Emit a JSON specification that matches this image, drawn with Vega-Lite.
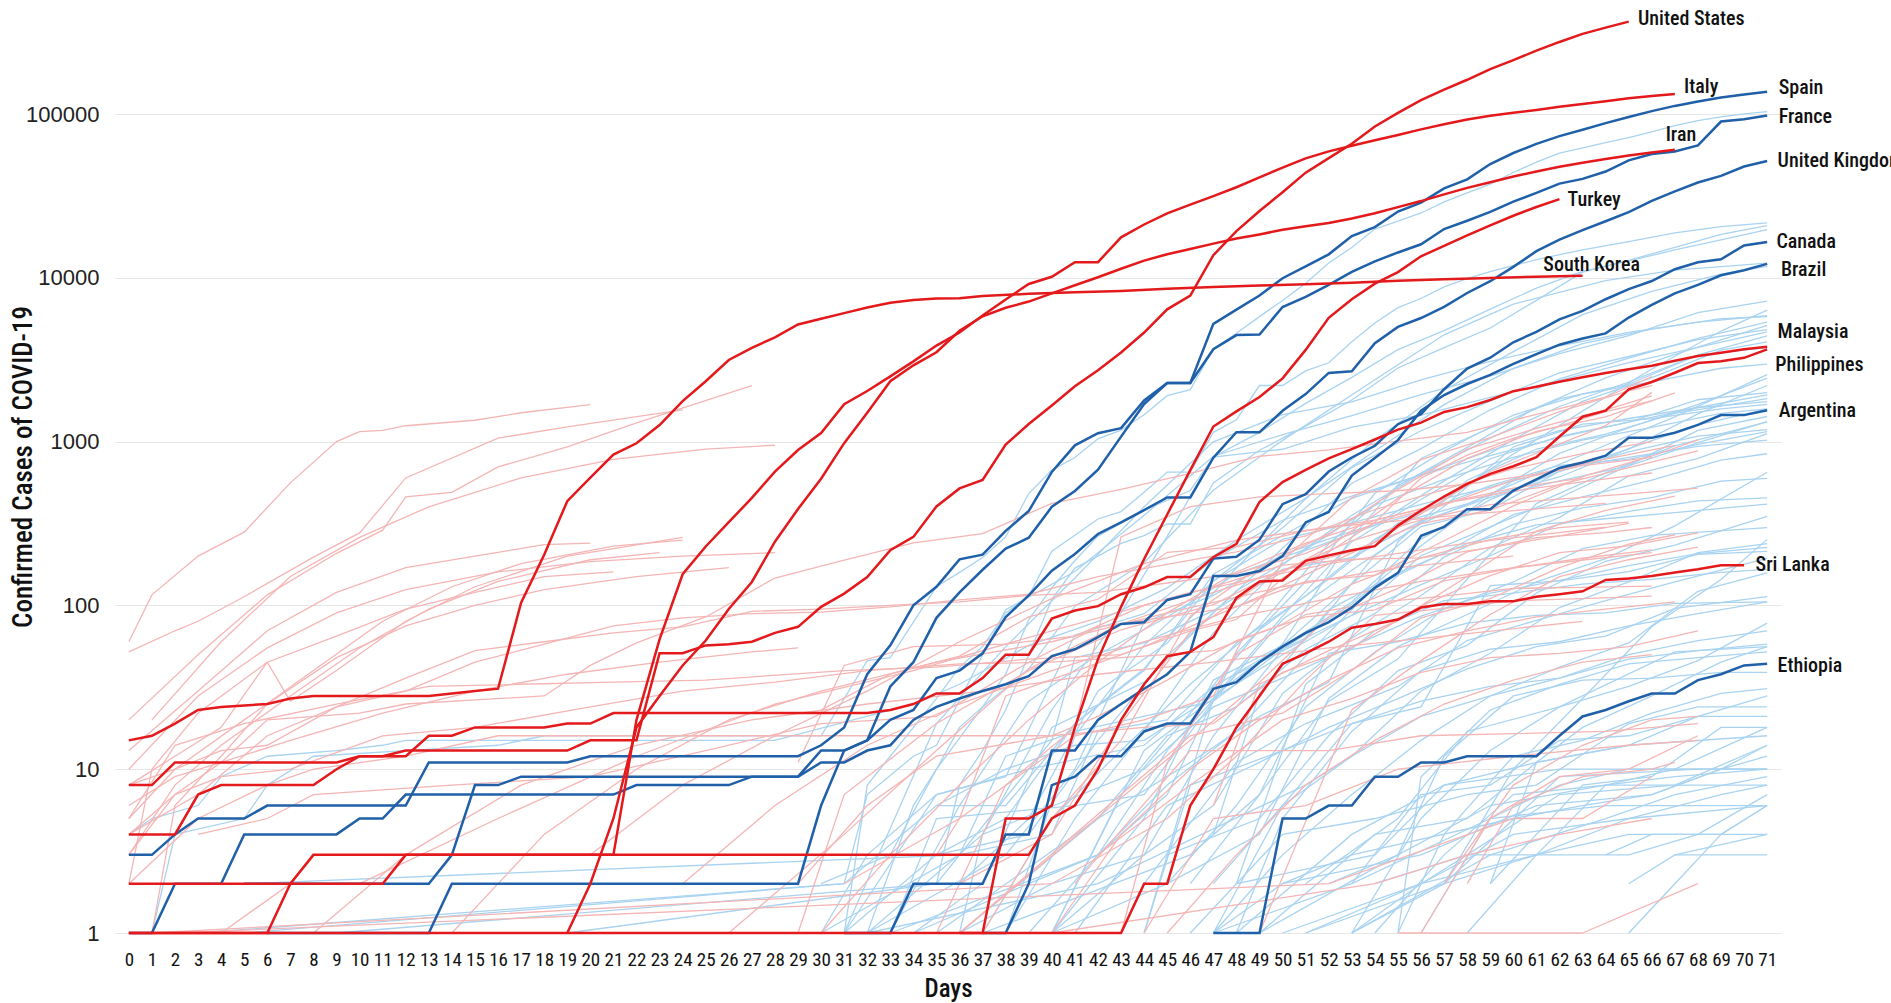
{
"$schema":"https://vega.github.io/schema/vega-lite/v6.json",
"width":1666,"height":933,
"autosize":{"type":"none"},
"padding":{"left":115,"top":0,"right":110,"bottom":70},
"background":"white",
"config":{"view":{"stroke":null}},
"datasets":{
"hr":[
{"c":"US","d":0,"v":8},{"c":"US","d":1,"v":8},{"c":"US","d":2,"v":11},{"c":"US","d":9,"v":11},{"c":"US","d":10,"v":12},{"c":"US","d":11,"v":12},{"c":"US","d":12,"v":13},{"c":"US","d":19,"v":13},{"c":"US","d":20,"v":15},{"c":"US","d":22,"v":15},{"c":"US","d":23,"v":51},{"c":"US","d":24,"v":51},{"c":"US","d":25,"v":57},{"c":"US","d":26,"v":58},{"c":"US","d":27,"v":60},{"c":"US","d":28,"v":68},{"c":"US","d":29,"v":74},{"c":"US","d":30,"v":98},{"c":"US","d":31,"v":118},{"c":"US","d":32,"v":149},{"c":"US","d":33,"v":217},{"c":"US","d":34,"v":262},{"c":"US","d":35,"v":402},{"c":"US","d":36,"v":518},{"c":"US","d":37,"v":583},{"c":"US","d":38,"v":959},{"c":"US","d":39,"v":1281},{"c":"US","d":40,"v":1663},{"c":"US","d":41,"v":2179},{"c":"US","d":42,"v":2726},{"c":"US","d":43,"v":3499},{"c":"US","d":44,"v":4632},{"c":"US","d":45,"v":6421},{"c":"US","d":46,"v":7783},{"c":"US","d":47,"v":13747},{"c":"US","d":48,"v":19273},{"c":"US","d":49,"v":25600},{"c":"US","d":50,"v":33276},{"c":"US","d":51,"v":43847},{"c":"US","d":52,"v":53740},{"c":"US","d":53,"v":65778},{"c":"US","d":54,"v":83836},{"c":"US","d":55,"v":101657},{"c":"US","d":56,"v":121465},{"c":"US","d":57,"v":140909},{"c":"US","d":58,"v":161831},{"c":"US","d":59,"v":188172},{"c":"US","d":60,"v":213242},{"c":"US","d":61,"v":243622},{"c":"US","d":62,"v":275367},{"c":"US","d":63,"v":308650},{"c":"US","d":64,"v":336802},{"c":"US","d":65,"v":366317},
{"c":"SK","d":0,"v":15},{"c":"SK","d":1,"v":16},{"c":"SK","d":2,"v":19},{"c":"SK","d":3,"v":23},{"c":"SK","d":4,"v":24},{"c":"SK","d":6,"v":25},{"c":"SK","d":7,"v":27},{"c":"SK","d":8,"v":28},{"c":"SK","d":13,"v":28},{"c":"SK","d":14,"v":29},{"c":"SK","d":15,"v":30},{"c":"SK","d":16,"v":31},{"c":"SK","d":17,"v":104},{"c":"SK","d":18,"v":204},{"c":"SK","d":19,"v":433},{"c":"SK","d":20,"v":602},{"c":"SK","d":21,"v":833},{"c":"SK","d":22,"v":977},{"c":"SK","d":23,"v":1261},{"c":"SK","d":24,"v":1766},{"c":"SK","d":25,"v":2337},{"c":"SK","d":26,"v":3150},{"c":"SK","d":27,"v":3736},{"c":"SK","d":28,"v":4335},{"c":"SK","d":29,"v":5186},{"c":"SK","d":30,"v":5621},{"c":"SK","d":31,"v":6088},{"c":"SK","d":32,"v":6593},{"c":"SK","d":33,"v":7041},{"c":"SK","d":34,"v":7314},{"c":"SK","d":35,"v":7478},{"c":"SK","d":36,"v":7513},{"c":"SK","d":37,"v":7755},{"c":"SK","d":39,"v":7979},{"c":"SK","d":41,"v":8162},{"c":"SK","d":43,"v":8320},{"c":"SK","d":45,"v":8565},{"c":"SK","d":47,"v":8799},{"c":"SK","d":49,"v":8961},{"c":"SK","d":51,"v":9137},{"c":"SK","d":53,"v":9332},{"c":"SK","d":55,"v":9583},{"c":"SK","d":57,"v":9786},{"c":"SK","d":59,"v":9976},{"c":"SK","d":61,"v":10156},{"c":"SK","d":63,"v":10284},
{"c":"IT","d":0,"v":1},{"c":"IT","d":6,"v":1},{"c":"IT","d":7,"v":2},{"c":"IT","d":8,"v":3},{"c":"IT","d":21,"v":3},{"c":"IT","d":22,"v":20},{"c":"IT","d":23,"v":62},{"c":"IT","d":24,"v":155},{"c":"IT","d":25,"v":229},{"c":"IT","d":26,"v":322},{"c":"IT","d":27,"v":453},{"c":"IT","d":28,"v":655},{"c":"IT","d":29,"v":888},{"c":"IT","d":30,"v":1128},{"c":"IT","d":31,"v":1694},{"c":"IT","d":32,"v":2036},{"c":"IT","d":33,"v":2502},{"c":"IT","d":34,"v":3089},{"c":"IT","d":35,"v":3858},{"c":"IT","d":36,"v":4636},{"c":"IT","d":37,"v":5883},{"c":"IT","d":38,"v":7375},{"c":"IT","d":39,"v":9172},{"c":"IT","d":40,"v":10149},{"c":"IT","d":41,"v":12462},{"c":"IT","d":42,"v":12462},{"c":"IT","d":43,"v":17660},{"c":"IT","d":44,"v":21157},{"c":"IT","d":45,"v":24747},{"c":"IT","d":46,"v":27980},{"c":"IT","d":47,"v":31506},{"c":"IT","d":48,"v":35713},{"c":"IT","d":49,"v":41035},{"c":"IT","d":50,"v":47021},{"c":"IT","d":51,"v":53578},{"c":"IT","d":52,"v":59138},{"c":"IT","d":53,"v":63927},{"c":"IT","d":54,"v":69176},{"c":"IT","d":55,"v":74386},{"c":"IT","d":56,"v":80589},{"c":"IT","d":57,"v":86498},{"c":"IT","d":58,"v":92472},{"c":"IT","d":59,"v":97689},{"c":"IT","d":60,"v":101739},{"c":"IT","d":61,"v":105792},{"c":"IT","d":62,"v":110574},{"c":"IT","d":63,"v":115242},{"c":"IT","d":64,"v":119827},{"c":"IT","d":65,"v":124632},{"c":"IT","d":66,"v":128948},{"c":"IT","d":67,"v":132547},
{"c":"IR","d":19,"v":1},{"c":"IR","d":20,"v":2},{"c":"IR","d":21,"v":5},{"c":"IR","d":22,"v":18},{"c":"IR","d":23,"v":28},{"c":"IR","d":24,"v":43},{"c":"IR","d":25,"v":61},{"c":"IR","d":26,"v":95},{"c":"IR","d":27,"v":139},{"c":"IR","d":28,"v":245},{"c":"IR","d":29,"v":388},{"c":"IR","d":30,"v":593},{"c":"IR","d":31,"v":978},{"c":"IR","d":32,"v":1501},{"c":"IR","d":33,"v":2336},{"c":"IR","d":34,"v":2922},{"c":"IR","d":35,"v":3513},{"c":"IR","d":36,"v":4747},{"c":"IR","d":37,"v":5823},{"c":"IR","d":38,"v":6566},{"c":"IR","d":39,"v":7161},{"c":"IR","d":40,"v":8042},{"c":"IR","d":41,"v":9000},{"c":"IR","d":42,"v":10075},{"c":"IR","d":43,"v":11364},{"c":"IR","d":44,"v":12729},{"c":"IR","d":45,"v":13938},{"c":"IR","d":46,"v":14991},{"c":"IR","d":47,"v":16169},{"c":"IR","d":48,"v":17361},{"c":"IR","d":49,"v":18407},{"c":"IR","d":50,"v":19644},{"c":"IR","d":51,"v":20610},{"c":"IR","d":52,"v":21638},{"c":"IR","d":53,"v":23049},{"c":"IR","d":54,"v":24811},{"c":"IR","d":55,"v":27017},{"c":"IR","d":56,"v":29406},{"c":"IR","d":57,"v":32332},{"c":"IR","d":58,"v":35408},{"c":"IR","d":59,"v":38309},{"c":"IR","d":60,"v":41495},{"c":"IR","d":61,"v":44605},{"c":"IR","d":62,"v":47593},{"c":"IR","d":63,"v":50468},{"c":"IR","d":64,"v":53183},{"c":"IR","d":65,"v":55743},{"c":"IR","d":66,"v":58226},{"c":"IR","d":67,"v":60500},
{"c":"TR","d":36,"v":1},{"c":"TR","d":37,"v":1},{"c":"TR","d":38,"v":5},{"c":"TR","d":39,"v":5},{"c":"TR","d":40,"v":6},{"c":"TR","d":41,"v":18},{"c":"TR","d":42,"v":47},{"c":"TR","d":43,"v":98},{"c":"TR","d":44,"v":192},{"c":"TR","d":45,"v":359},{"c":"TR","d":46,"v":670},{"c":"TR","d":47,"v":1236},{"c":"TR","d":48,"v":1529},{"c":"TR","d":49,"v":1872},{"c":"TR","d":50,"v":2433},{"c":"TR","d":51,"v":3629},{"c":"TR","d":52,"v":5698},{"c":"TR","d":53,"v":7402},{"c":"TR","d":54,"v":9217},{"c":"TR","d":55,"v":10827},{"c":"TR","d":56,"v":13531},{"c":"TR","d":57,"v":15679},{"c":"TR","d":58,"v":18135},{"c":"TR","d":59,"v":20921},{"c":"TR","d":60,"v":23934},{"c":"TR","d":61,"v":27069},{"c":"TR","d":62,"v":30217},
{"c":"LK","d":0,"v":1},{"c":"LK","d":43,"v":1},{"c":"LK","d":44,"v":2},{"c":"LK","d":45,"v":2},{"c":"LK","d":46,"v":6},{"c":"LK","d":47,"v":10},{"c":"LK","d":48,"v":18},{"c":"LK","d":49,"v":28},{"c":"LK","d":50,"v":44},{"c":"LK","d":51,"v":51},{"c":"LK","d":52,"v":60},{"c":"LK","d":53,"v":73},{"c":"LK","d":54,"v":77},{"c":"LK","d":55,"v":82},{"c":"LK","d":56,"v":97},{"c":"LK","d":57,"v":102},{"c":"LK","d":58,"v":102},{"c":"LK","d":59,"v":106},{"c":"LK","d":60,"v":106},{"c":"LK","d":61,"v":113},{"c":"LK","d":62,"v":117},{"c":"LK","d":63,"v":122},{"c":"LK","d":64,"v":143},{"c":"LK","d":65,"v":146},{"c":"LK","d":66,"v":151},{"c":"LK","d":67,"v":159},{"c":"LK","d":68,"v":166},{"c":"LK","d":69,"v":176},{"c":"LK","d":70,"v":176},
{"c":"MY","d":0,"v":4},{"c":"MY","d":2,"v":4},{"c":"MY","d":3,"v":7},{"c":"MY","d":4,"v":8},{"c":"MY","d":8,"v":8},{"c":"MY","d":9,"v":10},{"c":"MY","d":10,"v":12},{"c":"MY","d":12,"v":12},{"c":"MY","d":13,"v":16},{"c":"MY","d":14,"v":16},{"c":"MY","d":15,"v":18},{"c":"MY","d":18,"v":18},{"c":"MY","d":19,"v":19},{"c":"MY","d":20,"v":19},{"c":"MY","d":21,"v":22},{"c":"MY","d":32,"v":22},{"c":"MY","d":33,"v":23},{"c":"MY","d":34,"v":25},{"c":"MY","d":35,"v":29},{"c":"MY","d":36,"v":29},{"c":"MY","d":37,"v":36},{"c":"MY","d":38,"v":50},{"c":"MY","d":39,"v":50},{"c":"MY","d":40,"v":83},{"c":"MY","d":41,"v":93},{"c":"MY","d":42,"v":99},{"c":"MY","d":43,"v":117},{"c":"MY","d":44,"v":129},{"c":"MY","d":45,"v":149},{"c":"MY","d":46,"v":149},{"c":"MY","d":47,"v":197},{"c":"MY","d":48,"v":238},{"c":"MY","d":49,"v":428},{"c":"MY","d":50,"v":566},{"c":"MY","d":51,"v":673},{"c":"MY","d":52,"v":790},{"c":"MY","d":53,"v":900},{"c":"MY","d":54,"v":1030},{"c":"MY","d":55,"v":1183},{"c":"MY","d":56,"v":1306},{"c":"MY","d":57,"v":1518},{"c":"MY","d":58,"v":1624},{"c":"MY","d":59,"v":1796},{"c":"MY","d":60,"v":2031},{"c":"MY","d":61,"v":2161},{"c":"MY","d":62,"v":2320},{"c":"MY","d":63,"v":2470},{"c":"MY","d":64,"v":2626},{"c":"MY","d":65,"v":2766},{"c":"MY","d":66,"v":2908},{"c":"MY","d":67,"v":3116},{"c":"MY","d":68,"v":3333},{"c":"MY","d":69,"v":3483},{"c":"MY","d":70,"v":3662},{"c":"MY","d":71,"v":3793},
{"c":"PH","d":0,"v":2},{"c":"PH","d":11,"v":2},{"c":"PH","d":12,"v":3},{"c":"PH","d":39,"v":3},{"c":"PH","d":40,"v":5},{"c":"PH","d":41,"v":6},{"c":"PH","d":42,"v":10},{"c":"PH","d":43,"v":20},{"c":"PH","d":44,"v":33},{"c":"PH","d":45,"v":49},{"c":"PH","d":46,"v":52},{"c":"PH","d":47,"v":64},{"c":"PH","d":48,"v":111},{"c":"PH","d":49,"v":140},{"c":"PH","d":50,"v":142},{"c":"PH","d":51,"v":187},{"c":"PH","d":52,"v":202},{"c":"PH","d":53,"v":217},{"c":"PH","d":54,"v":230},{"c":"PH","d":55,"v":307},{"c":"PH","d":56,"v":380},{"c":"PH","d":57,"v":462},{"c":"PH","d":58,"v":552},{"c":"PH","d":59,"v":636},{"c":"PH","d":60,"v":707},{"c":"PH","d":61,"v":803},{"c":"PH","d":62,"v":1075},{"c":"PH","d":63,"v":1418},{"c":"PH","d":64,"v":1546},{"c":"PH","d":65,"v":2084},{"c":"PH","d":66,"v":2311},{"c":"PH","d":67,"v":2633},{"c":"PH","d":68,"v":3018},{"c":"PH","d":69,"v":3094},{"c":"PH","d":70,"v":3246},{"c":"PH","d":71,"v":3660}
],
"hb":[
{"c":"ES","d":6,"v":1},{"c":"ES","d":13,"v":1},{"c":"ES","d":14,"v":2},{"c":"ES","d":29,"v":2},{"c":"ES","d":30,"v":6},{"c":"ES","d":31,"v":13},{"c":"ES","d":32,"v":15},{"c":"ES","d":33,"v":32},{"c":"ES","d":34,"v":45},{"c":"ES","d":35,"v":84},{"c":"ES","d":36,"v":120},{"c":"ES","d":37,"v":165},{"c":"ES","d":38,"v":222},{"c":"ES","d":39,"v":259},{"c":"ES","d":40,"v":400},{"c":"ES","d":41,"v":500},{"c":"ES","d":42,"v":673},{"c":"ES","d":43,"v":1073},{"c":"ES","d":44,"v":1695},{"c":"ES","d":45,"v":2277},{"c":"ES","d":46,"v":2277},{"c":"ES","d":47,"v":5232},{"c":"ES","d":48,"v":6391},{"c":"ES","d":49,"v":7798},{"c":"ES","d":50,"v":9942},{"c":"ES","d":51,"v":11748},{"c":"ES","d":52,"v":13910},{"c":"ES","d":53,"v":17963},{"c":"ES","d":54,"v":20410},{"c":"ES","d":55,"v":25374},{"c":"ES","d":56,"v":28768},{"c":"ES","d":57,"v":35136},{"c":"ES","d":58,"v":39885},{"c":"ES","d":59,"v":49515},{"c":"ES","d":60,"v":57786},{"c":"ES","d":61,"v":65719},{"c":"ES","d":62,"v":73235},{"c":"ES","d":63,"v":80110},{"c":"ES","d":64,"v":87956},{"c":"ES","d":65,"v":95923},{"c":"ES","d":66,"v":104118},{"c":"ES","d":67,"v":112065},{"c":"ES","d":68,"v":119199},{"c":"ES","d":69,"v":126168},{"c":"ES","d":70,"v":131646},{"c":"ES","d":71,"v":136675},
{"c":"FR","d":0,"v":3},{"c":"FR","d":1,"v":3},{"c":"FR","d":2,"v":4},{"c":"FR","d":3,"v":5},{"c":"FR","d":5,"v":5},{"c":"FR","d":6,"v":6},{"c":"FR","d":12,"v":6},{"c":"FR","d":13,"v":11},{"c":"FR","d":19,"v":11},{"c":"FR","d":20,"v":12},{"c":"FR","d":29,"v":12},{"c":"FR","d":30,"v":14},{"c":"FR","d":31,"v":18},{"c":"FR","d":32,"v":38},{"c":"FR","d":33,"v":57},{"c":"FR","d":34,"v":100},{"c":"FR","d":35,"v":130},{"c":"FR","d":36,"v":191},{"c":"FR","d":37,"v":204},{"c":"FR","d":38,"v":285},{"c":"FR","d":39,"v":377},{"c":"FR","d":40,"v":653},{"c":"FR","d":41,"v":949},{"c":"FR","d":42,"v":1126},{"c":"FR","d":43,"v":1209},{"c":"FR","d":44,"v":1784},{"c":"FR","d":45,"v":2281},{"c":"FR","d":46,"v":2281},{"c":"FR","d":47,"v":3661},{"c":"FR","d":48,"v":4469},{"c":"FR","d":49,"v":4499},{"c":"FR","d":50,"v":6633},{"c":"FR","d":51,"v":7652},{"c":"FR","d":52,"v":9043},{"c":"FR","d":53,"v":10871},{"c":"FR","d":54,"v":12612},{"c":"FR","d":55,"v":14282},{"c":"FR","d":56,"v":16018},{"c":"FR","d":57,"v":19856},{"c":"FR","d":58,"v":22304},{"c":"FR","d":59,"v":25233},{"c":"FR","d":60,"v":29155},{"c":"FR","d":61,"v":32964},{"c":"FR","d":62,"v":37575},{"c":"FR","d":63,"v":40174},{"c":"FR","d":64,"v":44550},{"c":"FR","d":65,"v":52128},{"c":"FR","d":66,"v":56989},{"c":"FR","d":67,"v":59105},{"c":"FR","d":68,"v":64338},{"c":"FR","d":69,"v":89953},{"c":"FR","d":70,"v":92839},{"c":"FR","d":71,"v":98010},
{"c":"UK","d":5,"v":2},{"c":"UK","d":13,"v":2},{"c":"UK","d":14,"v":3},{"c":"UK","d":15,"v":8},{"c":"UK","d":16,"v":8},{"c":"UK","d":17,"v":9},{"c":"UK","d":29,"v":9},{"c":"UK","d":30,"v":13},{"c":"UK","d":31,"v":13},{"c":"UK","d":32,"v":15},{"c":"UK","d":33,"v":20},{"c":"UK","d":34,"v":23},{"c":"UK","d":35,"v":36},{"c":"UK","d":36,"v":40},{"c":"UK","d":37,"v":51},{"c":"UK","d":38,"v":85},{"c":"UK","d":39,"v":115},{"c":"UK","d":40,"v":163},{"c":"UK","d":41,"v":206},{"c":"UK","d":42,"v":273},{"c":"UK","d":43,"v":321},{"c":"UK","d":44,"v":382},{"c":"UK","d":45,"v":456},{"c":"UK","d":46,"v":456},{"c":"UK","d":47,"v":798},{"c":"UK","d":48,"v":1140},{"c":"UK","d":49,"v":1140},{"c":"UK","d":50,"v":1543},{"c":"UK","d":51,"v":1950},{"c":"UK","d":52,"v":2626},{"c":"UK","d":53,"v":2689},{"c":"UK","d":54,"v":3983},{"c":"UK","d":55,"v":5018},{"c":"UK","d":56,"v":5683},{"c":"UK","d":57,"v":6650},{"c":"UK","d":58,"v":8077},{"c":"UK","d":59,"v":9529},{"c":"UK","d":60,"v":11658},{"c":"UK","d":61,"v":14543},{"c":"UK","d":62,"v":17089},{"c":"UK","d":63,"v":19522},{"c":"UK","d":64,"v":22141},{"c":"UK","d":65,"v":25150},{"c":"UK","d":66,"v":29474},{"c":"UK","d":67,"v":33718},{"c":"UK","d":68,"v":38168},{"c":"UK","d":69,"v":41903},{"c":"UK","d":70,"v":47806},{"c":"UK","d":71,"v":51608},
{"c":"CA","d":0,"v":1},{"c":"CA","d":1,"v":1},{"c":"CA","d":2,"v":2},{"c":"CA","d":4,"v":2},{"c":"CA","d":5,"v":4},{"c":"CA","d":9,"v":4},{"c":"CA","d":10,"v":5},{"c":"CA","d":11,"v":5},{"c":"CA","d":12,"v":7},{"c":"CA","d":21,"v":7},{"c":"CA","d":22,"v":8},{"c":"CA","d":26,"v":8},{"c":"CA","d":27,"v":9},{"c":"CA","d":29,"v":9},{"c":"CA","d":30,"v":11},{"c":"CA","d":31,"v":11},{"c":"CA","d":32,"v":13},{"c":"CA","d":33,"v":14},{"c":"CA","d":34,"v":20},{"c":"CA","d":35,"v":24},{"c":"CA","d":36,"v":27},{"c":"CA","d":37,"v":30},{"c":"CA","d":38,"v":33},{"c":"CA","d":39,"v":37},{"c":"CA","d":40,"v":49},{"c":"CA","d":41,"v":54},{"c":"CA","d":42,"v":64},{"c":"CA","d":43,"v":77},{"c":"CA","d":44,"v":79},{"c":"CA","d":45,"v":108},{"c":"CA","d":46,"v":117},{"c":"CA","d":47,"v":193},{"c":"CA","d":48,"v":198},{"c":"CA","d":49,"v":252},{"c":"CA","d":50,"v":415},{"c":"CA","d":51,"v":478},{"c":"CA","d":52,"v":657},{"c":"CA","d":53,"v":800},{"c":"CA","d":54,"v":943},{"c":"CA","d":55,"v":1277},{"c":"CA","d":56,"v":1469},{"c":"CA","d":57,"v":2088},{"c":"CA","d":58,"v":2790},{"c":"CA","d":59,"v":3251},{"c":"CA","d":60,"v":4042},{"c":"CA","d":61,"v":4682},{"c":"CA","d":62,"v":5576},{"c":"CA","d":63,"v":6280},{"c":"CA","d":64,"v":7398},{"c":"CA","d":65,"v":8527},{"c":"CA","d":66,"v":9560},{"c":"CA","d":67,"v":11284},{"c":"CA","d":68,"v":12437},{"c":"CA","d":69,"v":12978},{"c":"CA","d":70,"v":15756},{"c":"CA","d":71,"v":16563},
{"c":"BR","d":31,"v":1},{"c":"BR","d":33,"v":1},{"c":"BR","d":34,"v":2},{"c":"BR","d":37,"v":2},{"c":"BR","d":38,"v":4},{"c":"BR","d":39,"v":4},{"c":"BR","d":40,"v":13},{"c":"BR","d":41,"v":13},{"c":"BR","d":42,"v":20},{"c":"BR","d":43,"v":25},{"c":"BR","d":44,"v":31},{"c":"BR","d":45,"v":38},{"c":"BR","d":46,"v":52},{"c":"BR","d":47,"v":151},{"c":"BR","d":48,"v":151},{"c":"BR","d":49,"v":162},{"c":"BR","d":50,"v":200},{"c":"BR","d":51,"v":321},{"c":"BR","d":52,"v":372},{"c":"BR","d":53,"v":621},{"c":"BR","d":54,"v":793},{"c":"BR","d":55,"v":1021},{"c":"BR","d":56,"v":1546},{"c":"BR","d":57,"v":1924},{"c":"BR","d":58,"v":2247},{"c":"BR","d":59,"v":2554},{"c":"BR","d":60,"v":2985},{"c":"BR","d":61,"v":3417},{"c":"BR","d":62,"v":3904},{"c":"BR","d":63,"v":4256},{"c":"BR","d":64,"v":4579},{"c":"BR","d":65,"v":5717},{"c":"BR","d":66,"v":6836},{"c":"BR","d":67,"v":8044},{"c":"BR","d":68,"v":9056},{"c":"BR","d":69,"v":10360},{"c":"BR","d":70,"v":11130},{"c":"BR","d":71,"v":12161},
{"c":"AR","d":37,"v":1},{"c":"AR","d":38,"v":1},{"c":"AR","d":39,"v":2},{"c":"AR","d":40,"v":8},{"c":"AR","d":41,"v":9},{"c":"AR","d":42,"v":12},{"c":"AR","d":43,"v":12},{"c":"AR","d":44,"v":17},{"c":"AR","d":45,"v":19},{"c":"AR","d":46,"v":19},{"c":"AR","d":47,"v":31},{"c":"AR","d":48,"v":34},{"c":"AR","d":49,"v":45},{"c":"AR","d":50,"v":56},{"c":"AR","d":51,"v":68},{"c":"AR","d":52,"v":79},{"c":"AR","d":53,"v":97},{"c":"AR","d":54,"v":128},{"c":"AR","d":55,"v":158},{"c":"AR","d":56,"v":266},{"c":"AR","d":57,"v":301},{"c":"AR","d":58,"v":387},{"c":"AR","d":59,"v":387},{"c":"AR","d":60,"v":502},{"c":"AR","d":61,"v":589},{"c":"AR","d":62,"v":690},{"c":"AR","d":63,"v":745},{"c":"AR","d":64,"v":820},{"c":"AR","d":65,"v":1054},{"c":"AR","d":66,"v":1054},{"c":"AR","d":67,"v":1133},{"c":"AR","d":68,"v":1265},{"c":"AR","d":69,"v":1451},{"c":"AR","d":70,"v":1451},{"c":"AR","d":71,"v":1554},
{"c":"ET","d":47,"v":1},{"c":"ET","d":49,"v":1},{"c":"ET","d":50,"v":5},{"c":"ET","d":51,"v":5},{"c":"ET","d":52,"v":6},{"c":"ET","d":53,"v":6},{"c":"ET","d":54,"v":9},{"c":"ET","d":55,"v":9},{"c":"ET","d":56,"v":11},{"c":"ET","d":57,"v":11},{"c":"ET","d":58,"v":12},{"c":"ET","d":61,"v":12},{"c":"ET","d":62,"v":16},{"c":"ET","d":63,"v":21},{"c":"ET","d":64,"v":23},{"c":"ET","d":65,"v":26},{"c":"ET","d":66,"v":29},{"c":"ET","d":67,"v":29},{"c":"ET","d":68,"v":35},{"c":"ET","d":69,"v":38},{"c":"ET","d":70,"v":43},{"c":"ET","d":71,"v":44}
],
"lb":[
{"c":"de","d":1,"v":1},{"c":"de","d":2,"v":4},{"c":"de","d":5,"v":5},{"c":"de","d":6,"v":8},{"c":"de","d":8,"v":12},{"c":"de","d":12,"v":13},{"c":"de","d":16,"v":14},{"c":"de","d":18,"v":16},{"c":"de","d":30,"v":16},{"c":"de","d":31,"v":27},{"c":"de","d":32,"v":46},{"c":"de","d":33,"v":48},{"c":"de","d":34,"v":79},{"c":"de","d":35,"v":130},{"c":"de","d":36,"v":159},{"c":"de","d":37,"v":196},{"c":"de","d":38,"v":262},{"c":"de","d":39,"v":482},{"c":"de","d":40,"v":670},{"c":"de","d":41,"v":799},{"c":"de","d":42,"v":1040},{"c":"de","d":43,"v":1176},{"c":"de","d":44,"v":1457},{"c":"de","d":45,"v":1908},{"c":"de","d":46,"v":2078},{"c":"de","d":47,"v":3675},{"c":"de","d":48,"v":4585},{"c":"de","d":49,"v":5795},{"c":"de","d":50,"v":7272},{"c":"de","d":51,"v":9257},{"c":"de","d":52,"v":12327},{"c":"de","d":53,"v":15320},{"c":"de","d":54,"v":19848},{"c":"de","d":55,"v":22213},{"c":"de","d":56,"v":24873},{"c":"de","d":57,"v":29056},{"c":"de","d":58,"v":32986},{"c":"de","d":59,"v":37323},{"c":"de","d":60,"v":43938},{"c":"de","d":61,"v":50871},{"c":"de","d":62,"v":57695},{"c":"de","d":63,"v":62095},{"c":"de","d":64,"v":66885},{"c":"de","d":65,"v":71808},{"c":"de","d":66,"v":77872},{"c":"de","d":67,"v":84794},{"c":"de","d":68,"v":91159},{"c":"de","d":69,"v":96092},{"c":"de","d":70,"v":100123},{"c":"de","d":71,"v":103374},
{"c":"ch","d":30,"v":1},{"c":"ch","d":31,"v":1},{"c":"ch","d":32,"v":8},{"c":"ch","d":34,"v":18},{"c":"ch","d":35,"v":27},{"c":"ch","d":36,"v":42},{"c":"ch","d":37,"v":56},{"c":"ch","d":38,"v":90},{"c":"ch","d":39,"v":114},{"c":"ch","d":40,"v":214},{"c":"ch","d":41,"v":268},{"c":"ch","d":42,"v":337},{"c":"ch","d":43,"v":374},{"c":"ch","d":44,"v":491},{"c":"ch","d":45,"v":652},{"c":"ch","d":46,"v":652},{"c":"ch","d":47,"v":1139},{"c":"ch","d":48,"v":1359},{"c":"ch","d":49,"v":2200},{"c":"ch","d":50,"v":2200},{"c":"ch","d":51,"v":2700},{"c":"ch","d":52,"v":3028},{"c":"ch","d":53,"v":4075},{"c":"ch","d":54,"v":5294},{"c":"ch","d":55,"v":6575},{"c":"ch","d":56,"v":7474},{"c":"ch","d":57,"v":8795},{"c":"ch","d":58,"v":9877},{"c":"ch","d":59,"v":10897},{"c":"ch","d":61,"v":12928},{"c":"ch","d":63,"v":14829},{"c":"ch","d":65,"v":16605},{"c":"ch","d":67,"v":18827},{"c":"ch","d":69,"v":20505},{"c":"ch","d":71,"v":21657},
{"c":"be","d":9,"v":1},{"c":"be","d":35,"v":2},{"c":"be","d":36,"v":8},{"c":"be","d":37,"v":13},{"c":"be","d":38,"v":23},{"c":"be","d":39,"v":50},{"c":"be","d":40,"v":109},{"c":"be","d":41,"v":169},{"c":"be","d":42,"v":200},{"c":"be","d":43,"v":239},{"c":"be","d":44,"v":267},{"c":"be","d":45,"v":314},{"c":"be","d":46,"v":314},{"c":"be","d":47,"v":559},{"c":"be","d":49,"v":886},{"c":"be","d":51,"v":1243},{"c":"be","d":53,"v":1795},{"c":"be","d":55,"v":2815},{"c":"be","d":57,"v":3743},{"c":"be","d":59,"v":4937},{"c":"be","d":61,"v":7284},{"c":"be","d":63,"v":10836},{"c":"be","d":65,"v":12775},{"c":"be","d":67,"v":15348},{"c":"be","d":69,"v":18431},{"c":"be","d":71,"v":20814},
{"c":"nl","d":32,"v":1},{"c":"nl","d":34,"v":6},{"c":"nl","d":35,"v":10},{"c":"nl","d":36,"v":18},{"c":"nl","d":37,"v":24},{"c":"nl","d":38,"v":38},{"c":"nl","d":39,"v":82},{"c":"nl","d":40,"v":128},{"c":"nl","d":41,"v":188},{"c":"nl","d":42,"v":265},{"c":"nl","d":44,"v":382},{"c":"nl","d":46,"v":503},{"c":"nl","d":47,"v":806},{"c":"nl","d":49,"v":1138},{"c":"nl","d":51,"v":1711},{"c":"nl","d":53,"v":2467},{"c":"nl","d":55,"v":3640},{"c":"nl","d":57,"v":4764},{"c":"nl","d":59,"v":6438},{"c":"nl","d":61,"v":8647},{"c":"nl","d":63,"v":10930},{"c":"nl","d":65,"v":12667},{"c":"nl","d":67,"v":14788},{"c":"nl","d":69,"v":17053},{"c":"nl","d":71,"v":19709},
{"c":"at","d":30,"v":2},{"c":"at","d":33,"v":3},{"c":"at","d":35,"v":10},{"c":"at","d":37,"v":24},{"c":"at","d":39,"v":41},{"c":"at","d":41,"v":99},{"c":"at","d":44,"v":182},{"c":"at","d":47,"v":504},{"c":"at","d":50,"v":1018},{"c":"at","d":54,"v":2388},{"c":"at","d":57,"v":4486},{"c":"at","d":60,"v":6909},{"c":"at","d":64,"v":9618},{"c":"at","d":67,"v":11129},{"c":"at","d":71,"v":12297},
{"c":"pt","d":36,"v":2},{"c":"pt","d":39,"v":5},{"c":"pt","d":42,"v":30},{"c":"pt","d":45,"v":59},{"c":"pt","d":48,"v":169},{"c":"pt","d":51,"v":448},{"c":"pt","d":54,"v":1020},{"c":"pt","d":57,"v":2060},{"c":"pt","d":60,"v":3544},{"c":"pt","d":63,"v":5962},{"c":"pt","d":66,"v":8251},{"c":"pt","d":69,"v":10524},{"c":"pt","d":71,"v":11730},
{"c":"se","d":5,"v":1},{"c":"se","d":31,"v":2},{"c":"se","d":32,"v":7},{"c":"se","d":34,"v":12},{"c":"se","d":35,"v":14},{"c":"se","d":38,"v":94},{"c":"se","d":41,"v":161},{"c":"se","d":44,"v":355},{"c":"se","d":47,"v":814},{"c":"se","d":50,"v":1103},{"c":"se","d":53,"v":1439},{"c":"se","d":56,"v":1934},{"c":"se","d":59,"v":2510},{"c":"se","d":62,"v":3447},{"c":"se","d":65,"v":4435},{"c":"se","d":68,"v":6131},{"c":"se","d":71,"v":7206},
{"c":"no","d":31,"v":1},{"c":"no","d":35,"v":19},{"c":"no","d":38,"v":56},{"c":"no","d":41,"v":147},{"c":"no","d":44,"v":400},{"c":"no","d":47,"v":996},{"c":"no","d":50,"v":1463},{"c":"no","d":53,"v":1746},{"c":"no","d":56,"v":2385},{"c":"no","d":59,"v":3084},{"c":"no","d":62,"v":3845},{"c":"no","d":65,"v":4641},{"c":"no","d":68,"v":5370},{"c":"no","d":71,"v":5865},
{"c":"au","d":0,"v":4},{"c":"au","d":1,"v":5},{"c":"au","d":3,"v":6},{"c":"au","d":4,"v":9},{"c":"au","d":6,"v":12},{"c":"au","d":9,"v":13},{"c":"au","d":11,"v":14},{"c":"au","d":12,"v":15},{"c":"au","d":28,"v":15},{"c":"au","d":34,"v":25},{"c":"au","d":36,"v":33},{"c":"au","d":39,"v":57},{"c":"au","d":42,"v":80},{"c":"au","d":45,"v":128},{"c":"au","d":48,"v":250},{"c":"au","d":51,"v":452},{"c":"au","d":54,"v":876},{"c":"au","d":57,"v":1682},{"c":"au","d":60,"v":2799},{"c":"au","d":63,"v":3966},{"c":"au","d":66,"v":4862},{"c":"au","d":69,"v":5635},{"c":"au","d":71,"v":5795},
{"c":"cz","d":35,"v":3},{"c":"cz","d":38,"v":5},{"c":"cz","d":41,"v":19},{"c":"cz","d":44,"v":41},{"c":"cz","d":47,"v":141},{"c":"cz","d":50,"v":298},{"c":"cz","d":53,"v":694},{"c":"cz","d":56,"v":1165},{"c":"cz","d":59,"v":1775},{"c":"cz","d":62,"v":2631},{"c":"cz","d":65,"v":3308},{"c":"cz","d":68,"v":4190},{"c":"cz","d":71,"v":4822},
{"c":"dk","d":32,"v":1},{"c":"dk","d":37,"v":4},{"c":"dk","d":40,"v":23},{"c":"dk","d":43,"v":90},{"c":"dk","d":45,"v":264},{"c":"dk","d":47,"v":804},{"c":"dk","d":50,"v":898},{"c":"dk","d":53,"v":1225},{"c":"dk","d":56,"v":1450},{"c":"dk","d":59,"v":1862},{"c":"dk","d":62,"v":2366},{"c":"dk","d":65,"v":3039},{"c":"dk","d":68,"v":3757},{"c":"dk","d":71,"v":4681},
{"c":"cl","d":37,"v":1},{"c":"cl","d":40,"v":5},{"c":"cl","d":43,"v":13},{"c":"cl","d":46,"v":33},{"c":"cl","d":49,"v":75},{"c":"cl","d":52,"v":238},{"c":"cl","d":55,"v":537},{"c":"cl","d":58,"v":922},{"c":"cl","d":61,"v":1610},{"c":"cl","d":64,"v":2449},{"c":"cl","d":67,"v":3404},{"c":"cl","d":71,"v":5116},
{"c":"ru","d":5,"v":2},{"c":"ru","d":36,"v":3},{"c":"ru","d":40,"v":4},{"c":"ru","d":42,"v":17},{"c":"ru","d":45,"v":20},{"c":"ru","d":48,"v":59},{"c":"ru","d":51,"v":114},{"c":"ru","d":54,"v":253},{"c":"ru","d":57,"v":438},{"c":"ru","d":60,"v":840},{"c":"ru","d":63,"v":1534},{"c":"ru","d":66,"v":2777},{"c":"ru","d":69,"v":4731},{"c":"ru","d":71,"v":6343},
{"c":"ie","d":34,"v":1},{"c":"ie","d":37,"v":2},{"c":"ie","d":40,"v":18},{"c":"ie","d":44,"v":34},{"c":"ie","d":47,"v":90},{"c":"ie","d":50,"v":223},{"c":"ie","d":53,"v":557},{"c":"ie","d":56,"v":906},{"c":"ie","d":59,"v":1564},{"c":"ie","d":62,"v":2415},{"c":"ie","d":65,"v":3235},{"c":"ie","d":68,"v":4273},{"c":"ie","d":71,"v":5364},
{"c":"ro","d":31,"v":1},{"c":"ro","d":35,"v":3},{"c":"ro","d":39,"v":4},{"c":"ro","d":42,"v":15},{"c":"ro","d":45,"v":49},{"c":"ro","d":48,"v":123},{"c":"ro","d":51,"v":217},{"c":"ro","d":54,"v":308},{"c":"ro","d":57,"v":576},{"c":"ro","d":60,"v":1029},{"c":"ro","d":63,"v":1760},{"c":"ro","d":66,"v":2460},{"c":"ro","d":69,"v":3613},{"c":"ro","d":71,"v":4057},
{"c":"pl","d":38,"v":1},{"c":"pl","d":41,"v":5},{"c":"pl","d":44,"v":17},{"c":"pl","d":47,"v":68},{"c":"pl","d":50,"v":177},{"c":"pl","d":53,"v":355},{"c":"pl","d":56,"v":634},{"c":"pl","d":59,"v":1051},{"c":"pl","d":62,"v":1638},{"c":"pl","d":65,"v":2311},{"c":"pl","d":68,"v":3383},{"c":"pl","d":71,"v":4413},
{"c":"ec","d":35,"v":6},{"c":"ec","d":38,"v":10},{"c":"ec","d":41,"v":14},{"c":"ec","d":44,"v":15},{"c":"ec","d":47,"v":28},{"c":"ec","d":50,"v":58},{"c":"ec","d":53,"v":260},{"c":"ec","d":56,"v":789},{"c":"ec","d":59,"v":1211},{"c":"ec","d":62,"v":1823},{"c":"ec","d":65,"v":2240},{"c":"ec","d":68,"v":3368},{"c":"ec","d":71,"v":3747},
{"c":"lu","d":34,"v":1},{"c":"lu","d":39,"v":2},{"c":"lu","d":42,"v":3},{"c":"lu","d":45,"v":7},{"c":"lu","d":48,"v":51},{"c":"lu","d":51,"v":140},{"c":"lu","d":54,"v":484},{"c":"lu","d":57,"v":875},{"c":"lu","d":60,"v":1453},{"c":"lu","d":63,"v":1950},{"c":"lu","d":66,"v":2319},{"c":"lu","d":69,"v":2804},{"c":"lu","d":71,"v":2970},
{"c":"fi","d":3,"v":1},{"c":"fi","d":31,"v":2},{"c":"fi","d":35,"v":6},{"c":"fi","d":38,"v":6},{"c":"fi","d":41,"v":19},{"c":"fi","d":44,"v":40},{"c":"fi","d":47,"v":155},{"c":"fi","d":50,"v":267},{"c":"fi","d":53,"v":450},{"c":"fi","d":56,"v":626},{"c":"fi","d":59,"v":880},{"c":"fi","d":62,"v":1167},{"c":"fi","d":65,"v":1384},{"c":"fi","d":68,"v":1615},{"c":"fi","d":71,"v":1927},
{"c":"mx","d":33,"v":1},{"c":"mx","d":35,"v":5},{"c":"mx","d":41,"v":6},{"c":"mx","d":44,"v":7},{"c":"mx","d":47,"v":26},{"c":"mx","d":50,"v":82},{"c":"mx","d":53,"v":164},{"c":"mx","d":56,"v":316},{"c":"mx","d":59,"v":475},{"c":"mx","d":62,"v":848},{"c":"mx","d":65,"v":1215},{"c":"mx","d":68,"v":1688},{"c":"mx","d":71,"v":2439},
{"c":"pe","d":40,"v":1},{"c":"pe","d":43,"v":7},{"c":"pe","d":46,"v":22},{"c":"pe","d":49,"v":71},{"c":"pe","d":52,"v":145},{"c":"pe","d":55,"v":318},{"c":"pe","d":58,"v":416},{"c":"pe","d":61,"v":635},{"c":"pe","d":64,"v":950},{"c":"pe","d":67,"v":1414},{"c":"pe","d":71,"v":2561},
{"c":"gr","d":31,"v":1},{"c":"gr","d":35,"v":7},{"c":"gr","d":38,"v":9},{"c":"gr","d":41,"v":66},{"c":"gr","d":44,"v":89},{"c":"gr","d":47,"v":190},{"c":"gr","d":50,"v":331},{"c":"gr","d":53,"v":464},{"c":"gr","d":56,"v":624},{"c":"gr","d":59,"v":821},{"c":"gr","d":62,"v":1061},{"c":"gr","d":65,"v":1314},{"c":"gr","d":68,"v":1613},{"c":"gr","d":71,"v":1755},
{"c":"is","d":33,"v":1},{"c":"is","d":36,"v":6},{"c":"is","d":39,"v":26},{"c":"is","d":42,"v":50},{"c":"is","d":45,"v":85},{"c":"is","d":48,"v":156},{"c":"is","d":51,"v":220},{"c":"is","d":54,"v":409},{"c":"is","d":57,"v":588},{"c":"is","d":60,"v":802},{"c":"is","d":63,"v":1020},{"c":"is","d":66,"v":1220},{"c":"is","d":69,"v":1486},{"c":"is","d":71,"v":1586},
{"c":"hr","d":30,"v":1},{"c":"hr","d":32,"v":3},{"c":"hr","d":35,"v":7},{"c":"hr","d":39,"v":10},{"c":"hr","d":44,"v":14},{"c":"hr","d":47,"v":32},{"c":"hr","d":50,"v":56},{"c":"hr","d":53,"v":105},{"c":"hr","d":56,"v":254},{"c":"hr","d":59,"v":442},{"c":"hr","d":62,"v":657},{"c":"hr","d":65,"v":867},{"c":"hr","d":68,"v":1079},{"c":"hr","d":71,"v":1182},
{"c":"rs","d":40,"v":1},{"c":"rs","d":44,"v":5},{"c":"rs","d":47,"v":35},{"c":"rs","d":50,"v":57},{"c":"rs","d":53,"v":135},{"c":"rs","d":56,"v":303},{"c":"rs","d":59,"v":384},{"c":"rs","d":62,"v":659},{"c":"rs","d":65,"v":900},{"c":"rs","d":68,"v":1476},{"c":"rs","d":71,"v":2200},
{"c":"co","d":40,"v":1},{"c":"co","d":44,"v":3},{"c":"co","d":47,"v":16},{"c":"co","d":50,"v":54},{"c":"co","d":53,"v":102},{"c":"co","d":56,"v":231},{"c":"co","d":59,"v":470},{"c":"co","d":62,"v":608},{"c":"co","d":65,"v":906},{"c":"co","d":68,"v":1267},{"c":"co","d":71,"v":1579},
{"c":"za","d":39,"v":1},{"c":"za","d":42,"v":3},{"c":"za","d":45,"v":13},{"c":"za","d":48,"v":38},{"c":"za","d":51,"v":62},{"c":"za","d":54,"v":202},{"c":"za","d":57,"v":402},{"c":"za","d":60,"v":927},{"c":"za","d":63,"v":1280},{"c":"za","d":66,"v":1380},{"c":"za","d":69,"v":1585},{"c":"za","d":71,"v":1686},
{"c":"eg","d":19,"v":1},{"c":"eg","d":35,"v":2},{"c":"eg","d":40,"v":15},{"c":"eg","d":41,"v":48},{"c":"eg","d":44,"v":59},{"c":"eg","d":47,"v":93},{"c":"eg","d":50,"v":166},{"c":"eg","d":53,"v":196},{"c":"eg","d":56,"v":327},{"c":"eg","d":59,"v":456},{"c":"eg","d":62,"v":576},{"c":"eg","d":65,"v":710},{"c":"eg","d":68,"v":985},{"c":"eg","d":71,"v":1322},
{"c":"dz","d":30,"v":1},{"c":"dz","d":36,"v":3},{"c":"dz","d":38,"v":12},{"c":"dz","d":41,"v":17},{"c":"dz","d":47,"v":26},{"c":"dz","d":50,"v":54},{"c":"dz","d":53,"v":87},{"c":"dz","d":56,"v":201},{"c":"dz","d":59,"v":302},{"c":"dz","d":62,"v":454},{"c":"dz","d":65,"v":716},{"c":"dz","d":68,"v":1171},{"c":"dz","d":71,"v":1423},
{"c":"ma","d":36,"v":1},{"c":"ma","d":40,"v":2},{"c":"ma","d":44,"v":3},{"c":"ma","d":47,"v":6},{"c":"ma","d":50,"v":29},{"c":"ma","d":53,"v":63},{"c":"ma","d":56,"v":115},{"c":"ma","d":59,"v":225},{"c":"ma","d":62,"v":345},{"c":"ma","d":65,"v":617},{"c":"ma","d":68,"v":791},{"c":"ma","d":71,"v":1120},
{"c":"ee","d":32,"v":1},{"c":"ee","d":38,"v":3},{"c":"ee","d":41,"v":10},{"c":"ee","d":44,"v":79},{"c":"ee","d":47,"v":115},{"c":"ee","d":50,"v":205},{"c":"ee","d":53,"v":283},{"c":"ee","d":56,"v":369},{"c":"ee","d":59,"v":538},{"c":"ee","d":62,"v":715},{"c":"ee","d":65,"v":779},{"c":"ee","d":68,"v":961},{"c":"ee","d":71,"v":1149},
{"c":"si","d":38,"v":1},{"c":"si","d":41,"v":16},{"c":"si","d":44,"v":57},{"c":"si","d":47,"v":141},{"c":"si","d":50,"v":253},{"c":"si","d":53,"v":319},{"c":"si","d":56,"v":414},{"c":"si","d":59,"v":528},{"c":"si","d":62,"v":684},{"c":"si","d":65,"v":802},{"c":"si","d":68,"v":934},{"c":"si","d":71,"v":1021},
{"c":"lt","d":33,"v":1},{"c":"lt","d":42,"v":3},{"c":"lt","d":45,"v":8},{"c":"lt","d":48,"v":17},{"c":"lt","d":51,"v":49},{"c":"lt","d":54,"v":131},{"c":"lt","d":57,"v":209},{"c":"lt","d":60,"v":358},{"c":"lt","d":63,"v":460},{"c":"lt","d":66,"v":581},{"c":"lt","d":69,"v":771},{"c":"lt","d":71,"v":843},
{"c":"ua","d":37,"v":1},{"c":"ua","d":46,"v":3},{"c":"ua","d":49,"v":7},{"c":"ua","d":52,"v":26},{"c":"ua","d":55,"v":47},{"c":"ua","d":58,"v":145},{"c":"ua","d":61,"v":418},{"c":"ua","d":64,"v":645},{"c":"ua","d":67,"v":942},{"c":"ua","d":71,"v":1319},
{"c":"uy","d":47,"v":4},{"c":"uy","d":49,"v":29},{"c":"uy","d":52,"v":94},{"c":"uy","d":55,"v":158},{"c":"uy","d":58,"v":238},{"c":"uy","d":61,"v":310},{"c":"uy","d":64,"v":338},{"c":"uy","d":67,"v":369},{"c":"uy","d":71,"v":415},
{"c":"cr","d":40,"v":1},{"c":"cr","d":44,"v":13},{"c":"cr","d":47,"v":27},{"c":"cr","d":50,"v":50},{"c":"cr","d":53,"v":87},{"c":"cr","d":56,"v":134},{"c":"cr","d":59,"v":201},{"c":"cr","d":62,"v":314},{"c":"cr","d":65,"v":375},{"c":"cr","d":68,"v":435},{"c":"cr","d":71,"v":454},
{"c":"cu","d":45,"v":3},{"c":"cu","d":49,"v":5},{"c":"cu","d":52,"v":16},{"c":"cu","d":55,"v":40},{"c":"cu","d":58,"v":57},{"c":"cu","d":61,"v":119},{"c":"cu","d":64,"v":186},{"c":"cu","d":67,"v":233},{"c":"cu","d":71,"v":350},
{"c":"ke","d":47,"v":1},{"c":"ke","d":50,"v":3},{"c":"ke","d":53,"v":7},{"c":"ke","d":56,"v":15},{"c":"ke","d":59,"v":28},{"c":"ke","d":62,"v":42},{"c":"ke","d":65,"v":59},{"c":"ke","d":68,"v":122},{"c":"ke","d":71,"v":158},
{"c":"rw","d":48,"v":1},{"c":"rw","d":50,"v":5},{"c":"rw","d":53,"v":17},{"c":"rw","d":56,"v":40},{"c":"rw","d":59,"v":54},{"c":"rw","d":62,"v":60},{"c":"rw","d":65,"v":75},{"c":"rw","d":68,"v":89},{"c":"rw","d":71,"v":105},
{"c":"ng","d":32,"v":1},{"c":"ng","d":42,"v":2},{"c":"ng","d":51,"v":8},{"c":"ng","d":53,"v":12},{"c":"ng","d":56,"v":30},{"c":"ng","d":59,"v":51},{"c":"ng","d":62,"v":97},{"c":"ng","d":65,"v":139},{"c":"ng","d":68,"v":210},{"c":"ng","d":71,"v":238},
{"c":"sn","d":36,"v":1},{"c":"sn","d":37,"v":4},{"c":"sn","d":44,"v":10},{"c":"sn","d":47,"v":24},{"c":"sn","d":50,"v":36},{"c":"sn","d":53,"v":56},{"c":"sn","d":56,"v":86},{"c":"sn","d":59,"v":119},{"c":"sn","d":62,"v":142},{"c":"sn","d":65,"v":175},{"c":"sn","d":68,"v":207},{"c":"sn","d":71,"v":226},
{"c":"gh","d":47,"v":2},{"c":"gh","d":50,"v":6},{"c":"gh","d":53,"v":19},{"c":"gh","d":56,"v":24},{"c":"gh","d":59,"v":132},{"c":"gh","d":62,"v":141},{"c":"gh","d":65,"v":161},{"c":"gh","d":68,"v":205},{"c":"gh","d":71,"v":214},
{"c":"cm","d":40,"v":1},{"c":"cm","d":45,"v":2},{"c":"cm","d":49,"v":4},{"c":"cm","d":52,"v":27},{"c":"cm","d":55,"v":56},{"c":"cm","d":58,"v":88},{"c":"cm","d":61,"v":139},{"c":"cm","d":64,"v":193},{"c":"cm","d":67,"v":306},{"c":"cm","d":71,"v":650},
{"c":"tn","d":36,"v":1},{"c":"tn","d":42,"v":5},{"c":"tn","d":45,"v":16},{"c":"tn","d":48,"v":24},{"c":"tn","d":51,"v":54},{"c":"tn","d":54,"v":89},{"c":"tn","d":57,"v":197},{"c":"tn","d":60,"v":312},{"c":"tn","d":63,"v":394},{"c":"tn","d":66,"v":455},{"c":"tn","d":69,"v":574},{"c":"tn","d":71,"v":596},
{"c":"bo","d":44,"v":2},{"c":"bo","d":48,"v":11},{"c":"bo","d":51,"v":19},{"c":"bo","d":55,"v":32},{"c":"bo","d":58,"v":61},{"c":"bo","d":61,"v":81},{"c":"bo","d":64,"v":107},{"c":"bo","d":67,"v":139},{"c":"bo","d":71,"v":194},
{"c":"py","d":41,"v":1},{"c":"py","d":45,"v":6},{"c":"py","d":49,"v":11},{"c":"py","d":52,"v":18},{"c":"py","d":55,"v":27},{"c":"py","d":58,"v":41},{"c":"py","d":61,"v":56},{"c":"py","d":64,"v":65},{"c":"py","d":67,"v":96},{"c":"py","d":71,"v":113},
{"c":"jm","d":44,"v":1},{"c":"jm","d":46,"v":8},{"c":"jm","d":50,"v":13},{"c":"jm","d":53,"v":19},{"c":"jm","d":56,"v":26},{"c":"jm","d":59,"v":32},{"c":"jm","d":62,"v":36},{"c":"jm","d":65,"v":47},{"c":"jm","d":68,"v":53},{"c":"jm","d":71,"v":58},
{"c":"tt","d":46,"v":2},{"c":"tt","d":49,"v":7},{"c":"tt","d":52,"v":51},{"c":"tt","d":55,"v":60},{"c":"tt","d":58,"v":78},{"c":"tt","d":61,"v":87},{"c":"tt","d":64,"v":90},{"c":"tt","d":67,"v":103},{"c":"tt","d":71,"v":105},
{"c":"na","d":48,"v":2},{"c":"na","d":54,"v":3},{"c":"na","d":57,"v":8},{"c":"na","d":61,"v":11},{"c":"na","d":65,"v":14},{"c":"na","d":71,"v":16},
{"c":"zm","d":52,"v":2},{"c":"zm","d":55,"v":3},{"c":"zm","d":57,"v":12},{"c":"zm","d":60,"v":28},{"c":"zm","d":63,"v":35},{"c":"zm","d":66,"v":36},{"c":"zm","d":69,"v":39},{"c":"zm","d":71,"v":39},
{"c":"zw","d":54,"v":1},{"c":"zw","d":57,"v":3},{"c":"zw","d":60,"v":7},{"c":"zw","d":64,"v":8},{"c":"zw","d":67,"v":9},{"c":"zw","d":71,"v":10},
{"c":"ao","d":54,"v":2},{"c":"ao","d":58,"v":3},{"c":"ao","d":62,"v":7},{"c":"ao","d":67,"v":8},{"c":"ao","d":71,"v":14},
{"c":"mz","d":56,"v":1},{"c":"mz","d":59,"v":5},{"c":"mz","d":62,"v":8},{"c":"mz","d":65,"v":10},{"c":"mz","d":71,"v":10},
{"c":"er","d":55,"v":1},{"c":"er","d":57,"v":4},{"c":"er","d":60,"v":12},{"c":"er","d":63,"v":15},{"c":"er","d":66,"v":22},{"c":"er","d":69,"v":29},{"c":"er","d":71,"v":31},
{"c":"ug","d":55,"v":1},{"c":"ug","d":56,"v":9},{"c":"ug","d":59,"v":23},{"c":"ug","d":62,"v":33},{"c":"ug","d":65,"v":44},{"c":"ug","d":68,"v":48},{"c":"ug","d":71,"v":52},
{"c":"ne","d":53,"v":1},{"c":"ne","d":57,"v":2},{"c":"ne","d":60,"v":10},{"c":"ne","d":63,"v":27},{"c":"ne","d":66,"v":74},{"c":"ne","d":69,"v":144},{"c":"ne","d":71,"v":253},
{"c":"td","d":53,"v":1},{"c":"td","d":59,"v":3},{"c":"td","d":64,"v":5},{"c":"td","d":67,"v":7},{"c":"td","d":71,"v":9},
{"c":"bz","d":57,"v":2},{"c":"bz","d":61,"v":3},{"c":"bz","d":65,"v":3},{"c":"bz","d":68,"v":4},{"c":"bz","d":71,"v":7},
{"c":"ht","d":53,"v":2},{"c":"ht","d":56,"v":7},{"c":"ht","d":59,"v":8},{"c":"ht","d":62,"v":15},{"c":"ht","d":65,"v":16},{"c":"ht","d":68,"v":21},{"c":"ht","d":71,"v":21},
{"c":"ly","d":58,"v":1},{"c":"ly","d":61,"v":3},{"c":"ly","d":64,"v":8},{"c":"ly","d":67,"v":10},{"c":"ly","d":71,"v":18},
{"c":"ml","d":59,"v":2},{"c":"ml","d":61,"v":11},{"c":"ml","d":63,"v":18},{"c":"ml","d":66,"v":28},{"c":"ml","d":69,"v":45},{"c":"ml","d":71,"v":56},
{"c":"gw","d":59,"v":2},{"c":"gw","d":63,"v":8},{"c":"gw","d":66,"v":9},{"c":"gw","d":69,"v":18},{"c":"gw","d":71,"v":18},
{"c":"gl","d":51,"v":1},{"c":"gl","d":57,"v":2},{"c":"gl","d":62,"v":9},{"c":"gl","d":68,"v":10},{"c":"gl","d":71,"v":10},
{"c":"sd","d":47,"v":1},{"c":"sd","d":50,"v":2},{"c":"sd","d":53,"v":3},{"c":"sd","d":60,"v":5},{"c":"sd","d":63,"v":6},{"c":"sd","d":66,"v":7},{"c":"sd","d":69,"v":10},{"c":"sd","d":71,"v":12},
{"c":"so","d":50,"v":1},{"c":"so","d":56,"v":2},{"c":"so","d":61,"v":3},{"c":"so","d":65,"v":5},{"c":"so","d":69,"v":7},{"c":"so","d":71,"v":8},
{"c":"bw","d":64,"v":3},{"c":"bw","d":66,"v":4},{"c":"bw","d":69,"v":4},{"c":"bw","d":71,"v":6},
{"c":"sl","d":65,"v":1},{"c":"sl","d":67,"v":2},{"c":"sl","d":69,"v":4},{"c":"sl","d":71,"v":6},
{"c":"bi","d":65,"v":2},{"c":"bi","d":67,"v":3},{"c":"bi","d":71,"v":3},
{"c":"mw","d":67,"v":3},{"c":"mw","d":71,"v":4},
{"c":"gm","d":51,"v":1},{"c":"gm","d":56,"v":2},{"c":"gm","d":58,"v":3},{"c":"gm","d":61,"v":3},{"c":"gm","d":65,"v":4},{"c":"gm","d":71,"v":4},
{"c":"lr","d":50,"v":2},{"c":"lr","d":56,"v":3},{"c":"lr","d":61,"v":6},{"c":"lr","d":66,"v":7},{"c":"lr","d":69,"v":10},{"c":"lr","d":71,"v":14},
{"c":"cf","d":49,"v":1},{"c":"cf","d":55,"v":3},{"c":"cf","d":59,"v":6},{"c":"cf","d":64,"v":8},{"c":"cf","d":71,"v":8},
{"c":"mr","d":47,"v":1},{"c":"mr","d":53,"v":2},{"c":"mr","d":59,"v":5},{"c":"mr","d":64,"v":6},{"c":"mr","d":71,"v":6},
{"c":"sr","d":48,"v":1},{"c":"sr","d":53,"v":4},{"c":"sr","d":57,"v":8},{"c":"sr","d":62,"v":10},{"c":"sr","d":71,"v":10},
{"c":"gy","d":46,"v":1},{"c":"gy","d":50,"v":4},{"c":"gy","d":54,"v":5},{"c":"gy","d":58,"v":7},{"c":"gy","d":61,"v":8},{"c":"gy","d":65,"v":19},{"c":"gy","d":68,"v":24},{"c":"gy","d":71,"v":24},
{"c":"bs","d":49,"v":1},{"c":"bs","d":54,"v":4},{"c":"bs","d":58,"v":5},{"c":"bs","d":61,"v":11},{"c":"bs","d":65,"v":14},{"c":"bs","d":68,"v":21},{"c":"bs","d":71,"v":28},
{"c":"bb","d":51,"v":2},{"c":"bb","d":55,"v":5},{"c":"bb","d":58,"v":17},{"c":"bb","d":62,"v":24},{"c":"bb","d":67,"v":52},{"c":"bb","d":71,"v":56},
{"c":"ni","d":53,"v":1},{"c":"ni","d":56,"v":2},{"c":"ni","d":60,"v":4},{"c":"ni","d":65,"v":5},{"c":"ni","d":71,"v":6},
{"c":"sv","d":53,"v":1},{"c":"sv","d":56,"v":5},{"c":"sv","d":59,"v":13},{"c":"sv","d":62,"v":24},{"c":"sv","d":65,"v":32},{"c":"sv","d":68,"v":46},{"c":"sv","d":71,"v":78},
{"c":"hn","d":45,"v":2},{"c":"hn","d":48,"v":6},{"c":"hn","d":51,"v":24},{"c":"hn","d":54,"v":52},{"c":"hn","d":57,"v":95},{"c":"hn","d":60,"v":139},{"c":"hn","d":63,"v":222},{"c":"hn","d":66,"v":268},{"c":"hn","d":71,"v":298},
{"c":"gt","d":47,"v":1},{"c":"gt","d":50,"v":6},{"c":"gt","d":53,"v":12},{"c":"gt","d":56,"v":21},{"c":"gt","d":59,"v":28},{"c":"gt","d":62,"v":36},{"c":"gt","d":65,"v":50},{"c":"gt","d":68,"v":61},{"c":"gt","d":71,"v":70},
{"c":"ve","d":48,"v":2},{"c":"ve","d":51,"v":33},{"c":"ve","d":54,"v":70},{"c":"ve","d":57,"v":107},{"c":"ve","d":60,"v":119},{"c":"ve","d":63,"v":135},{"c":"ve","d":66,"v":144},{"c":"ve","d":69,"v":159},{"c":"ve","d":71,"v":166},
{"c":"pa","d":44,"v":1},{"c":"pa","d":47,"v":27},{"c":"pa","d":50,"v":86},{"c":"pa","d":53,"v":245},{"c":"pa","d":56,"v":443},{"c":"pa","d":59,"v":786},{"c":"pa","d":62,"v":1075},{"c":"pa","d":65,"v":1317},{"c":"pa","d":68,"v":1801},{"c":"pa","d":71,"v":1988},
{"c":"do","d":35,"v":1},{"c":"do","d":42,"v":5},{"c":"do","d":46,"v":11},{"c":"do","d":49,"v":21},{"c":"do","d":52,"v":34},{"c":"do","d":55,"v":245},{"c":"do","d":58,"v":581},{"c":"do","d":61,"v":901},{"c":"do","d":64,"v":1109},{"c":"do","d":67,"v":1488},{"c":"do","d":71,"v":1828}
],
"lr":[
{"c":"cA","d":0,"v":60},{"c":"cA","d":1,"v":116},{"c":"cA","d":3,"v":200},{"c":"cA","d":5,"v":280},{"c":"cA","d":7,"v":560},{"c":"cA","d":9,"v":1000},{"c":"cA","d":10,"v":1150},{"c":"cA","d":11,"v":1170},{"c":"cA","d":12,"v":1250},{"c":"cA","d":15,"v":1350},{"c":"cA","d":17,"v":1500},{"c":"cA","d":20,"v":1680},
{"c":"cB","d":0,"v":52},{"c":"cB","d":2,"v":70},{"c":"cB","d":3,"v":80},{"c":"cB","d":5,"v":113},{"c":"cB","d":8,"v":197},{"c":"cB","d":10,"v":277},{"c":"cB","d":12,"v":600},{"c":"cB","d":16,"v":1050},{"c":"cB","d":19,"v":1230},{"c":"cB","d":24,"v":1560},
{"c":"cC","d":0,"v":20},{"c":"cC","d":3,"v":50},{"c":"cC","d":6,"v":116},{"c":"cC","d":9,"v":208},{"c":"cC","d":11,"v":288},{"c":"cC","d":12,"v":460},{"c":"cC","d":14,"v":490},{"c":"cC","d":16,"v":700},{"c":"cC","d":19,"v":930},{"c":"cC","d":22,"v":1300},{"c":"cC","d":27,"v":2200},
{"c":"cD","d":1,"v":20},{"c":"cD","d":4,"v":60},{"c":"cD","d":7,"v":150},{"c":"cD","d":10,"v":260},{"c":"cD","d":13,"v":400},{"c":"cD","d":17,"v":600},{"c":"cD","d":21,"v":780},{"c":"cD","d":25,"v":900},{"c":"cD","d":28,"v":950},
{"c":"cE","d":0,"v":13},{"c":"cE","d":3,"v":30},{"c":"cE","d":6,"v":70},{"c":"cE","d":9,"v":120},{"c":"cE","d":12,"v":170},{"c":"cE","d":15,"v":200},{"c":"cE","d":18,"v":235},{"c":"cE","d":20,"v":240},
{"c":"cF","d":0,"v":8},{"c":"cF","d":2,"v":12},{"c":"cF","d":4,"v":18},{"c":"cF","d":6,"v":45},{"c":"cF","d":7,"v":26},{"c":"cF","d":9,"v":40},{"c":"cF","d":12,"v":80},{"c":"cF","d":15,"v":130},{"c":"cF","d":19,"v":200},{"c":"cF","d":24,"v":260},
{"c":"cG","d":0,"v":5},{"c":"cG","d":2,"v":10},{"c":"cG","d":5,"v":20},{"c":"cG","d":8,"v":40},{"c":"cG","d":11,"v":80},{"c":"cG","d":14,"v":130},{"c":"cG","d":17,"v":180},{"c":"cG","d":21,"v":230},{"c":"cG","d":24,"v":250},
{"c":"cH","d":0,"v":3},{"c":"cH","d":2,"v":8},{"c":"cH","d":4,"v":14},{"c":"cH","d":7,"v":28},{"c":"cH","d":10,"v":55},{"c":"cH","d":13,"v":95},{"c":"cH","d":16,"v":140},{"c":"cH","d":20,"v":190},{"c":"cH","d":23,"v":210},
{"c":"cI","d":0,"v":6},{"c":"cI","d":2,"v":9},{"c":"cI","d":4,"v":11},{"c":"cI","d":7,"v":15},{"c":"cI","d":11,"v":22},{"c":"cI","d":15,"v":30},{"c":"cI","d":19,"v":38},{"c":"cI","d":23,"v":45},{"c":"cI","d":27,"v":52},{"c":"cI","d":29,"v":55},
{"c":"cJ","d":1,"v":1},{"c":"cJ","d":2,"v":6},{"c":"cJ","d":4,"v":12},{"c":"cJ","d":6,"v":25},{"c":"cJ","d":9,"v":48},{"c":"cJ","d":12,"v":75},{"c":"cJ","d":15,"v":100},{"c":"cJ","d":18,"v":125},{"c":"cJ","d":22,"v":150},{"c":"cJ","d":26,"v":170},
{"c":"cK","d":0,"v":10},{"c":"cK","d":3,"v":28},{"c":"cK","d":6,"v":55},{"c":"cK","d":9,"v":90},{"c":"cK","d":12,"v":125},{"c":"cK","d":16,"v":160},{"c":"cK","d":20,"v":185},{"c":"cK","d":24,"v":200},{"c":"cK","d":28,"v":210},
{"c":"cL","d":0,"v":2},{"c":"cL","d":1,"v":10},{"c":"cL","d":3,"v":22},{"c":"cL","d":6,"v":45},{"c":"cL","d":9,"v":65},{"c":"cL","d":12,"v":95},{"c":"cL","d":15,"v":120},{"c":"cL","d":18,"v":150},{"c":"cL","d":21,"v":160},
{"c":"r1","d":10,"v":2},{"c":"r1","d":16,"v":5},{"c":"r1","d":22,"v":12},{"c":"r1","d":28,"v":25},{"c":"r1","d":34,"v":40},{"c":"r1","d":40,"v":70},{"c":"r1","d":46,"v":120},{"c":"r1","d":52,"v":180},{"c":"r1","d":58,"v":240},{"c":"r1","d":64,"v":300},
{"c":"r2","d":14,"v":1},{"c":"r2","d":18,"v":4},{"c":"r2","d":22,"v":10},{"c":"r2","d":26,"v":20},{"c":"r2","d":30,"v":30},{"c":"r2","d":35,"v":45},{"c":"r2","d":40,"v":60},{"c":"r2","d":45,"v":90},{"c":"r2","d":50,"v":130},{"c":"r2","d":55,"v":170},{"c":"r2","d":60,"v":200},
{"c":"r3","d":20,"v":3},{"c":"r3","d":24,"v":8},{"c":"r3","d":28,"v":16},{"c":"r3","d":32,"v":30},{"c":"r3","d":36,"v":60},{"c":"r3","d":40,"v":110},{"c":"r3","d":44,"v":180},{"c":"r3","d":48,"v":250},{"c":"r3","d":52,"v":300},{"c":"r3","d":58,"v":360},{"c":"r3","d":64,"v":420},
{"c":"r4","d":8,"v":1},{"c":"r4","d":12,"v":3},{"c":"r4","d":17,"v":8},{"c":"r4","d":22,"v":14},{"c":"r4","d":27,"v":20},{"c":"r4","d":32,"v":25},{"c":"r4","d":37,"v":30},{"c":"r4","d":42,"v":38},{"c":"r4","d":47,"v":45},{"c":"r4","d":52,"v":55},{"c":"r4","d":57,"v":65},{"c":"r4","d":63,"v":80},
{"c":"r5","d":24,"v":2},{"c":"r5","d":28,"v":6},{"c":"r5","d":32,"v":14},{"c":"r5","d":36,"v":25},{"c":"r5","d":40,"v":40},{"c":"r5","d":44,"v":60},{"c":"r5","d":48,"v":85},{"c":"r5","d":52,"v":110},{"c":"r5","d":56,"v":140},{"c":"r5","d":60,"v":170},{"c":"r5","d":66,"v":210},
{"c":"r6","d":30,"v":1},{"c":"r6","d":33,"v":3},{"c":"r6","d":36,"v":8},{"c":"r6","d":39,"v":20},{"c":"r6","d":42,"v":45},{"c":"r6","d":45,"v":90},{"c":"r6","d":48,"v":160},{"c":"r6","d":51,"v":240},{"c":"r6","d":54,"v":330},{"c":"r6","d":57,"v":420},{"c":"r6","d":60,"v":520},{"c":"r6","d":63,"v":600},
{"c":"r7","d":40,"v":1},{"c":"r7","d":43,"v":4},{"c":"r7","d":46,"v":10},{"c":"r7","d":49,"v":20},{"c":"r7","d":52,"v":35},{"c":"r7","d":55,"v":55},{"c":"r7","d":58,"v":70},{"c":"r7","d":61,"v":85},{"c":"r7","d":64,"v":95},{"c":"r7","d":67,"v":105},
{"c":"r8","d":45,"v":1},{"c":"r8","d":48,"v":3},{"c":"r8","d":51,"v":8},{"c":"r8","d":54,"v":15},{"c":"r8","d":57,"v":25},{"c":"r8","d":60,"v":35},{"c":"r8","d":63,"v":45},{"c":"r8","d":66,"v":50},
{"c":"jp","d":0,"v":4},{"c":"jp","d":2,"v":7},{"c":"jp","d":4,"v":11},{"c":"jp","d":6,"v":20},{"c":"jp","d":10,"v":22},{"c":"jp","d":12,"v":25},{"c":"jp","d":18,"v":28},{"c":"jp","d":20,"v":43},{"c":"jp","d":22,"v":59},{"c":"jp","d":25,"v":85},{"c":"jp","d":28,"v":147},{"c":"jp","d":31,"v":189},{"c":"jp","d":34,"v":241},{"c":"jp","d":37,"v":274},{"c":"jp","d":40,"v":420},{"c":"jp","d":43,"v":511},{"c":"jp","d":46,"v":639},{"c":"jp","d":49,"v":814},{"c":"jp","d":52,"v":889},{"c":"jp","d":55,"v":1007},{"c":"jp","d":58,"v":1140},{"c":"jp","d":61,"v":1468},{"c":"jp","d":64,"v":1866},{"c":"jp","d":66,"v":2495},
{"c":"sg","d":0,"v":4},{"c":"sg","d":3,"v":7},{"c":"sg","d":6,"v":16},{"c":"sg","d":9,"v":24},{"c":"sg","d":12,"v":30},{"c":"sg","d":15,"v":45},{"c":"sg","d":18,"v":58},{"c":"sg","d":21,"v":75},{"c":"sg","d":24,"v":84},{"c":"sg","d":27,"v":89},{"c":"sg","d":30,"v":91},{"c":"sg","d":33,"v":98},{"c":"sg","d":36,"v":108},{"c":"sg","d":39,"v":117},{"c":"sg","d":42,"v":150},{"c":"sg","d":45,"v":178},{"c":"sg","d":48,"v":212},{"c":"sg","d":51,"v":266},{"c":"sg","d":54,"v":385},{"c":"sg","d":57,"v":509},{"c":"sg","d":60,"v":683},{"c":"sg","d":63,"v":844},{"c":"sg","d":66,"v":1000},
{"c":"th","d":0,"v":5},{"c":"th","d":2,"v":14},{"c":"th","d":5,"v":19},{"c":"th","d":9,"v":25},{"c":"th","d":13,"v":32},{"c":"th","d":17,"v":33},{"c":"th","d":21,"v":34},{"c":"th","d":25,"v":35},{"c":"th","d":31,"v":40},{"c":"th","d":35,"v":42},{"c":"th","d":39,"v":47},{"c":"th","d":43,"v":50},{"c":"th","d":46,"v":70},{"c":"th","d":48,"v":82},{"c":"th","d":50,"v":147},{"c":"th","d":52,"v":212},{"c":"th","d":54,"v":322},{"c":"th","d":56,"v":599},{"c":"th","d":58,"v":827},{"c":"th","d":60,"v":1045},{"c":"th","d":62,"v":1245},{"c":"th","d":64,"v":1524},{"c":"th","d":66,"v":1771},
{"c":"in","d":4,"v":1},{"c":"in","d":7,"v":2},{"c":"in","d":8,"v":3},{"c":"in","d":35,"v":3},{"c":"in","d":36,"v":5},{"c":"in","d":38,"v":28},{"c":"in","d":44,"v":56},{"c":"in","d":49,"v":113},{"c":"in","d":54,"v":244},{"c":"in","d":59,"v":657},{"c":"in","d":64,"v":1251},{"c":"in","d":66,"v":1998},
{"c":"pk","d":31,"v":2},{"c":"pk","d":36,"v":5},{"c":"pk","d":41,"v":16},{"c":"pk","d":44,"v":20},{"c":"pk","d":47,"v":28},{"c":"pk","d":50,"v":187},{"c":"pk","d":53,"v":454},{"c":"pk","d":56,"v":776},{"c":"pk","d":59,"v":1057},{"c":"pk","d":62,"v":1526},{"c":"pk","d":65,"v":2039},{"c":"pk","d":66,"v":2200},
{"c":"id","d":36,"v":2},{"c":"id","d":40,"v":4},{"c":"id","d":43,"v":19},{"c":"id","d":46,"v":69},{"c":"id","d":49,"v":134},{"c":"id","d":52,"v":227},{"c":"id","d":55,"v":450},{"c":"id","d":58,"v":790},{"c":"id","d":61,"v":1155},{"c":"id","d":64,"v":1414},{"c":"id","d":67,"v":1986},
{"c":"sa","d":37,"v":1},{"c":"sa","d":40,"v":5},{"c":"sa","d":43,"v":15},{"c":"sa","d":46,"v":86},{"c":"sa","d":49,"v":171},{"c":"sa","d":52,"v":274},{"c":"sa","d":55,"v":511},{"c":"sa","d":58,"v":900},{"c":"sa","d":61,"v":1203},{"c":"sa","d":64,"v":1563},{"c":"sa","d":66,"v":1900},
{"c":"ae","d":3,"v":4},{"c":"ae","d":6,"v":5},{"c":"ae","d":8,"v":7},{"c":"ae","d":14,"v":8},{"c":"ae","d":20,"v":9},{"c":"ae","d":25,"v":13},{"c":"ae","d":30,"v":19},{"c":"ae","d":35,"v":21},{"c":"ae","d":39,"v":45},{"c":"ae","d":42,"v":74},{"c":"ae","d":45,"v":85},{"c":"ae","d":48,"v":98},{"c":"ae","d":51,"v":140},{"c":"ae","d":54,"v":153},{"c":"ae","d":57,"v":248},{"c":"ae","d":60,"v":405},{"c":"ae","d":63,"v":611},{"c":"ae","d":66,"v":814},{"c":"ae","d":68,"v":1024},
{"c":"qa","d":35,"v":1},{"c":"qa","d":38,"v":8},{"c":"qa","d":41,"v":18},{"c":"qa","d":43,"v":262},{"c":"qa","d":46,"v":401},{"c":"qa","d":49,"v":460},{"c":"qa","d":52,"v":481},{"c":"qa","d":55,"v":501},{"c":"qa","d":58,"v":549},{"c":"qa","d":61,"v":634},{"c":"qa","d":64,"v":781},{"c":"qa","d":67,"v":949},
{"c":"bh","d":30,"v":23},{"c":"bh","d":33,"v":38},{"c":"bh","d":36,"v":49},{"c":"bh","d":39,"v":85},{"c":"bh","d":42,"v":109},{"c":"bh","d":45,"v":211},{"c":"bh","d":48,"v":228},{"c":"bh","d":51,"v":285},{"c":"bh","d":54,"v":332},{"c":"bh","d":57,"v":419},{"c":"bh","d":60,"v":499},{"c":"bh","d":63,"v":567},{"c":"bh","d":66,"v":643},
{"c":"kw","d":29,"v":11},{"c":"kw","d":31,"v":43},{"c":"kw","d":34,"v":56},{"c":"kw","d":38,"v":58},{"c":"kw","d":41,"v":65},{"c":"kw","d":44,"v":100},{"c":"kw","d":47,"v":130},{"c":"kw","d":50,"v":176},{"c":"kw","d":53,"v":191},{"c":"kw","d":56,"v":195},{"c":"kw","d":59,"v":225},{"c":"kw","d":62,"v":266},{"c":"kw","d":65,"v":317},
{"c":"iq","d":29,"v":1},{"c":"iq","d":31,"v":7},{"c":"iq","d":35,"v":19},{"c":"iq","d":39,"v":40},{"c":"iq","d":43,"v":71},{"c":"iq","d":47,"v":101},{"c":"iq","d":50,"v":164},{"c":"iq","d":53,"v":214},{"c":"iq","d":56,"v":316},{"c":"iq","d":59,"v":382},{"c":"iq","d":62,"v":547},{"c":"iq","d":65,"v":694},{"c":"iq","d":68,"v":878},
{"c":"lb","d":26,"v":1},{"c":"lb","d":31,"v":4},{"c":"lb","d":35,"v":13},{"c":"lb","d":39,"v":41},{"c":"lb","d":43,"v":77},{"c":"lb","d":47,"v":120},{"c":"lb","d":50,"v":163},{"c":"lb","d":53,"v":248},{"c":"lb","d":56,"v":333},{"c":"lb","d":59,"v":412},{"c":"lb","d":62,"v":446},{"c":"lb","d":65,"v":479},{"c":"lb","d":68,"v":520},
{"c":"hk","d":0,"v":8},{"c":"hk","d":2,"v":10},{"c":"hk","d":4,"v":13},{"c":"hk","d":6,"v":14},{"c":"hk","d":9,"v":24},{"c":"hk","d":12,"v":36},{"c":"hk","d":15,"v":53},{"c":"hk","d":18,"v":60},{"c":"hk","d":21,"v":68},{"c":"hk","d":24,"v":74},{"c":"hk","d":27,"v":92},{"c":"hk","d":30,"v":95},{"c":"hk","d":33,"v":100},{"c":"hk","d":36,"v":105},{"c":"hk","d":39,"v":115},{"c":"hk","d":42,"v":120},{"c":"hk","d":45,"v":137},{"c":"hk","d":48,"v":157},{"c":"hk","d":51,"v":208},{"c":"hk","d":54,"v":318},{"c":"hk","d":57,"v":411},{"c":"hk","d":60,"v":582},{"c":"hk","d":63,"v":714},{"c":"hk","d":66,"v":802},
{"c":"tw","d":0,"v":3},{"c":"tw","d":2,"v":7},{"c":"tw","d":4,"v":9},{"c":"tw","d":7,"v":10},{"c":"tw","d":11,"v":16},{"c":"tw","d":15,"v":18},{"c":"tw","d":20,"v":24},{"c":"tw","d":24,"v":30},{"c":"tw","d":28,"v":34},{"c":"tw","d":32,"v":40},{"c":"tw","d":36,"v":44},{"c":"tw","d":40,"v":45},{"c":"tw","d":44,"v":49},{"c":"tw","d":47,"v":53},{"c":"tw","d":50,"v":77},{"c":"tw","d":53,"v":135},{"c":"tw","d":56,"v":195},{"c":"tw","d":59,"v":252},{"c":"tw","d":62,"v":298},{"c":"tw","d":65,"v":322},
{"c":"vn","d":0,"v":2},{"c":"vn","d":3,"v":5},{"c":"vn","d":6,"v":8},{"c":"vn","d":8,"v":10},{"c":"vn","d":12,"v":12},{"c":"vn","d":16,"v":16},{"c":"vn","d":40,"v":16},{"c":"vn","d":42,"v":21},{"c":"vn","d":45,"v":35},{"c":"vn","d":48,"v":61},{"c":"vn","d":51,"v":85},{"c":"vn","d":54,"v":94},{"c":"vn","d":57,"v":141},{"c":"vn","d":60,"v":169},{"c":"vn","d":63,"v":194},{"c":"vn","d":66,"v":218},
{"c":"kh","d":1,"v":1},{"c":"kh","d":40,"v":2},{"c":"kh","d":45,"v":5},{"c":"kh","d":48,"v":12},{"c":"kh","d":51,"v":35},{"c":"kh","d":54,"v":87},{"c":"kh","d":57,"v":96},{"c":"kh","d":60,"v":107},{"c":"kh","d":63,"v":110},{"c":"kh","d":66,"v":114},
{"c":"np","d":2,"v":1},{"c":"np","d":52,"v":2},{"c":"np","d":60,"v":5},{"c":"np","d":63,"v":5},{"c":"np","d":66,"v":9},
{"c":"af","d":29,"v":1},{"c":"af","d":36,"v":1},{"c":"af","d":43,"v":7},{"c":"af","d":46,"v":16},{"c":"af","d":50,"v":22},{"c":"af","d":53,"v":40},{"c":"af","d":56,"v":84},{"c":"af","d":59,"v":110},{"c":"af","d":62,"v":170},{"c":"af","d":65,"v":237},{"c":"af","d":67,"v":270},
{"c":"kz","d":47,"v":6},{"c":"kz","d":49,"v":33},{"c":"kz","d":52,"v":53},{"c":"kz","d":55,"v":81},{"c":"kz","d":58,"v":150},{"c":"kz","d":61,"v":284},{"c":"kz","d":64,"v":380},{"c":"kz","d":67,"v":464},
{"c":"uz","d":49,"v":1},{"c":"uz","d":53,"v":23},{"c":"uz","d":56,"v":46},{"c":"uz","d":59,"v":88},{"c":"uz","d":62,"v":150},{"c":"uz","d":65,"v":190},{"c":"uz","d":68,"v":227},
{"c":"bd","d":42,"v":3},{"c":"bd","d":46,"v":8},{"c":"bd","d":50,"v":20},{"c":"bd","d":53,"v":27},{"c":"bd","d":56,"v":39},{"c":"bd","d":59,"v":48},{"c":"bd","d":62,"v":51},{"c":"bd","d":65,"v":56},{"c":"bd","d":68,"v":70},
{"c":"jo","d":36,"v":1},{"c":"jo","d":49,"v":34},{"c":"jo","d":52,"v":85},{"c":"jo","d":55,"v":127},{"c":"jo","d":58,"v":212},{"c":"jo","d":61,"v":259},{"c":"jo","d":64,"v":278},{"c":"jo","d":66,"v":299},
{"c":"om","d":29,"v":2},{"c":"om","d":32,"v":6},{"c":"om","d":35,"v":12},{"c":"om","d":40,"v":16},{"c":"om","d":44,"v":18},{"c":"om","d":47,"v":19},{"c":"om","d":50,"v":39},{"c":"om","d":53,"v":55},{"c":"om","d":56,"v":99},{"c":"om","d":59,"v":152},{"c":"om","d":62,"v":210},{"c":"om","d":65,"v":231},{"c":"om","d":68,"v":277},
{"c":"mn","d":44,"v":1},{"c":"mn","d":47,"v":5},{"c":"mn","d":51,"v":6},{"c":"mn","d":55,"v":10},{"c":"mn","d":60,"v":12},{"c":"mn","d":65,"v":14},{"c":"mn","d":68,"v":15},
{"c":"mm","d":57,"v":2},{"c":"mm","d":60,"v":8},{"c":"mm","d":63,"v":14},{"c":"mm","d":66,"v":20},{"c":"mm","d":68,"v":21},
{"c":"mv","d":41,"v":2},{"c":"mv","d":46,"v":13},{"c":"mv","d":52,"v":13},{"c":"mv","d":56,"v":16},{"c":"mv","d":64,"v":17},{"c":"mv","d":68,"v":19},
{"c":"bn","d":43,"v":1},{"c":"bn","d":45,"v":11},{"c":"bn","d":48,"v":50},{"c":"bn","d":51,"v":88},{"c":"bn","d":54,"v":104},{"c":"bn","d":57,"v":114},{"c":"bn","d":60,"v":127},{"c":"bn","d":63,"v":129},{"c":"bn","d":66,"v":131},
{"c":"bt","d":40,"v":1},{"c":"bt","d":54,"v":2},{"c":"bt","d":58,"v":3},{"c":"bt","d":62,"v":4},{"c":"bt","d":66,"v":5},
{"c":"sy","d":56,"v":1},{"c":"sy","d":59,"v":5},{"c":"sy","d":62,"v":9},{"c":"sy","d":65,"v":10},{"c":"sy","d":68,"v":16},
{"c":"la","d":58,"v":2},{"c":"la","d":60,"v":6},{"c":"la","d":63,"v":9},{"c":"la","d":66,"v":10},{"c":"la","d":67,"v":11},
{"c":"tl","d":55,"v":1},{"c":"tl","d":63,"v":1},
{"c":"pg","d":63,"v":1},{"c":"pg","d":68,"v":2}
],
"lab":[
{"n":"United States","d":65.4,"v":381000},{"n":"Italy","d":67.4,"v":146000},{"n":"Spain","d":71.5,"v":144000},{"n":"France","d":71.5,"v":95900},{"n":"Iran","d":66.6,"v":74500},{"n":"United Kingdom","d":71.45,"v":51600},{"n":"Turkey","d":62.35,"v":29900},{"n":"Canada","d":71.4,"v":16600},{"n":"South Korea","d":61.3,"v":12000},{"n":"Brazil","d":71.6,"v":11200},{"n":"Malaysia","d":71.45,"v":4670},{"n":"Philippines","d":71.35,"v":2940},{"n":"Argentina","d":71.5,"v":1540},{"n":"Sri Lanka","d":70.5,"v":177},{"n":"Ethiopia","d":71.45,"v":42.7}
]
},
"encoding":{
"x":{"field":"d","type":"quantitative","scale":{"domain":[-0.6,71.6],"nice":false,"zero":false},
"axis":{"title":"Days","values":[0,1,2,3,4,5,6,7,8,9,10,11,12,13,14,15,16,17,18,19,20,21,22,23,24,25,26,27,28,29,30,31,32,33,34,35,36,37,38,39,40,41,42,43,44,45,46,47,48,49,50,51,52,53,54,55,56,57,58,59,60,61,62,63,64,65,66,67,68,69,70,71],"format":"d","grid":false,"domain":false,"ticks":false,"labelOverlap":false,"labelFont":"Roboto Condensed, Noto Sans Condensed, Open Sans Condensed, Arial Narrow, Roboto, sans-serif","labelFontSize":19,"labelColor":"#111111","labelPadding":17,"titleFont":"Roboto Condensed, Noto Sans Condensed, Open Sans Condensed, Arial Narrow, Roboto, sans-serif","titleFontSize":25,"titleFontWeight":500,"titleColor":"#111111","titlePadding":7}},
"y":{"field":"v","type":"quantitative","scale":{"type":"log","domain":[1,496600],"nice":false},
"axis":{"title":"Confirmed Cases of COVID-19","values":[1,10,100,1000,10000,100000],"format":"d","grid":true,"gridColor":"#e6e6e6","gridWidth":1,"domain":false,"ticks":false,"labelFont":"Liberation Sans, Arial, sans-serif","labelFontSize":22,"labelColor":"#222222","labelPadding":16,"titleFont":"Roboto Condensed, Noto Sans Condensed, Open Sans Condensed, Arial Narrow, Roboto, sans-serif","titleFontSize":27,"titleFontWeight":500,"titleColor":"#111111","titlePadding":-12}}
},
"layer":[
{"data":{"name":"lb"},"mark":{"type":"line","color":"#a9d3f0","strokeWidth":1.3},"encoding":{"detail":{"field":"c","type":"nominal"}}},
{"data":{"name":"lr"},"mark":{"type":"line","color":"#f4b5b5","strokeWidth":1.3},"encoding":{"detail":{"field":"c","type":"nominal"}}},
{"data":{"name":"hb"},"mark":{"type":"line","color":"#1f60a8","strokeWidth":2.5},"encoding":{"detail":{"field":"c","type":"nominal"}}},
{"data":{"name":"hr"},"mark":{"type":"line","color":"#e3191c","strokeWidth":2.5},"encoding":{"detail":{"field":"c","type":"nominal"}}},
{"data":{"name":"lab"},"mark":{"type":"text","align":"left","baseline":"middle","font":"Roboto Condensed, Noto Sans Condensed, Open Sans Condensed, Arial Narrow, Roboto, sans-serif","fontSize":20,"fontWeight":500,"color":"#111111"},"encoding":{"text":{"field":"n","type":"nominal"}}}
]
}
